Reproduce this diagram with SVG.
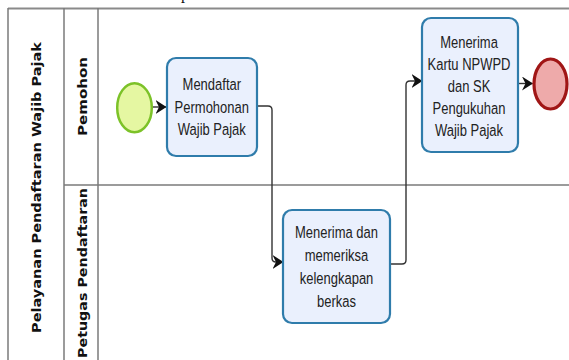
<svg xmlns="http://www.w3.org/2000/svg" width="569" height="360" viewBox="0 0 569 360">
  <defs>
    <marker id="arrow" viewBox="0 0 11 14" refX="10.5" refY="7" markerWidth="11" markerHeight="14" markerUnits="userSpaceOnUse" orient="auto">
      <path d="M0,0 L11,7 L0,14 L3.5,7 Z" fill="#111"/>
    </marker>
    <style>
      .pool { fill: none; stroke: #7a7a7a; stroke-width: 1.5; }
      .poolTop { fill: none; stroke: #8a8a8a; stroke-width: 2; }
      .lbl { font-family: "DejaVu Sans", Verdana, sans-serif; font-weight: bold; font-size: 11.5px; fill: #111; text-anchor: middle; }
      .task rect { fill: #eaf0fd; stroke: #2f7cab; stroke-width: 2.2; }
      .task text { font-family: "Liberation Sans", Arial, sans-serif; font-size: 13px; fill: #222; text-anchor: middle; }
      .flow { fill: none; stroke: #333; stroke-width: 1.4; marker-end: url(#arrow); }
      .start { fill: #e5f7a2; stroke: #7cc228; stroke-width: 2.5; }
      .end { fill: #eeaaaa; stroke: #a01616; stroke-width: 3.2; }
      .caption { font-family: "Liberation Serif", "Times New Roman", serif; font-size: 16px; fill: #111; }
    </style>
  </defs>

  <rect width="569" height="360" fill="#ffffff"/>

  <text class="caption" x="181" y="-1.5">p</text>

  <!-- Pool and lanes -->
  <g id="pool">
    <line class="poolTop" x1="8" y1="8.5" x2="569" y2="8.5"/>
    <line class="pool" x1="8" y1="8" x2="8" y2="360"/>
    <line class="pool" x1="64" y1="8" x2="64" y2="360"/>
    <line class="pool" x1="98" y1="8" x2="98" y2="360"/>
    <line class="pool" x1="64" y1="185" x2="569" y2="185"/>
    <text class="lbl" transform="translate(41,187.5) rotate(-90)" textLength="291" lengthAdjust="spacingAndGlyphs">Pelayanan Pendaftaran Wajib Pajak</text>
  </g>
  <g id="lane-pemohon">
    <text class="lbl" transform="translate(86.5,96.5) rotate(-90)" textLength="79" lengthAdjust="spacingAndGlyphs">Pemohon</text>
  </g>
  <g id="lane-petugas">
    <text class="lbl" transform="translate(86.5,273) rotate(-90)" textLength="170" lengthAdjust="spacingAndGlyphs">Petugas Pendaftaran</text>
  </g>

  <!-- Sequence flows -->
  <g id="connectors">
    <path class="flow" d="M152.5,107 H166"/>
    <path class="flow" d="M257,106 H268 Q272,106 272,110 V258 Q272,262 276,262 H283"/>
    <path class="flow" d="M390,264 H402 Q406,264 406,260 V85 Q406,81 410,81 H422"/>
    <path class="flow" d="M518,83.5 H532.5"/>
  </g>

  <!-- Events -->
  <g id="start">
    <ellipse class="start" cx="134.5" cy="107.7" rx="17.3" ry="24.5"/>
  </g>
  <g id="end">
    <ellipse class="end" cx="550.5" cy="84" rx="16.5" ry="25"/>
  </g>

  <!-- Tasks -->
  <g id="task-mendaftar" class="task">
    <rect x="167" y="58" width="90" height="98" rx="9"/>
    <text transform="translate(211.8,90) scale(1,1.33)">Mendaftar</text>
    <text transform="translate(211.8,113) scale(1,1.33)">Permohonan</text>
    <text transform="translate(211.8,135) scale(1,1.33)">Wajib Pajak</text>
  </g>
  <g id="task-menerima-berkas" class="task">
    <rect x="283" y="210" width="107" height="113" rx="9"/>
    <text transform="translate(336.5,238) scale(1,1.33)">Menerima dan</text>
    <text transform="translate(336.5,261) scale(1,1.33)">memeriksa</text>
    <text transform="translate(336.5,284) scale(1,1.33)">kelengkapan</text>
    <text transform="translate(336.5,307) scale(1,1.33)">berkas</text>
  </g>
  <g id="task-menerima-kartu" class="task">
    <rect x="422" y="18" width="96" height="134" rx="9"/>
    <text transform="translate(469,48) scale(1,1.33)">Menerima</text>
    <text transform="translate(469,70) scale(1,1.33)">Kartu NPWPD</text>
    <text transform="translate(469,92) scale(1,1.33)">dan SK</text>
    <text transform="translate(469,114) scale(1,1.33)">Pengukuhan</text>
    <text transform="translate(469,136) scale(1,1.33)">Wajib Pajak</text>
  </g>
</svg>
